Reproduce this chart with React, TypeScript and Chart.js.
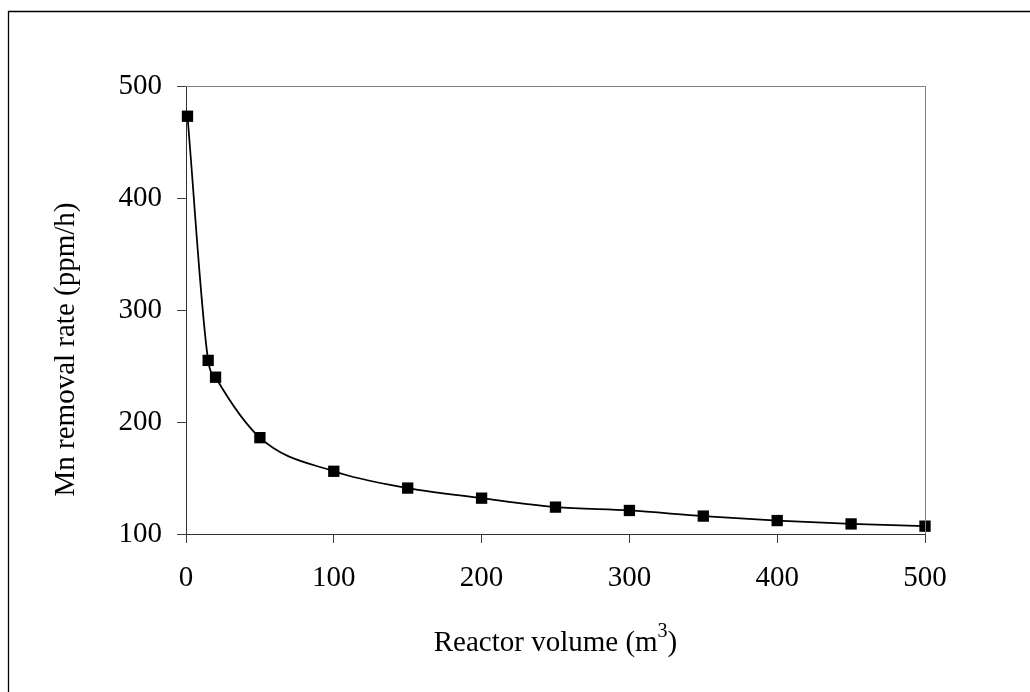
import { useEffect, useRef } from "react";
import { Chart, registerables } from "chart.js";

Chart.register(...registerables);

const volumes = [1, 15, 20, 50, 100, 150, 200, 250, 300, 350, 400, 450, 500];
const rates = [473, 255, 240, 186, 156, 141, 132, 124, 121, 116, 112, 109, 107];
const xTicks = [0, 100, 200, 300, 400, 500];
const yTicks = [100, 200, 300, 400, 500];
const xTitleMain = "Reactor volume (m";
const xTitleSup = "3";
const xTitleEnd = ")";
const yTitle = "Mn removal rate (ppm/h)";

const FONT = "'Liberation Serif', 'Times New Roman', serif";

const framePlugin = {
  id: "frameAndTitles",
  beforeDraw(chart: any) {
    const ctx = chart.ctx;
    ctx.save();
    ctx.fillStyle = "#ffffff";
    ctx.fillRect(0, 0, chart.width, chart.height);
    ctx.restore();
  },
  afterDraw(chart: any) {
    const ctx = chart.ctx;
    const a = chart.chartArea;
    ctx.save();
    // plot area top/right edges
    ctx.strokeStyle = "#808080";
    ctx.lineWidth = 1;
    ctx.beginPath();
    ctx.moveTo(a.left, a.top + 0.5);
    ctx.lineTo(a.right + 0.5, a.top + 0.5);
    ctx.lineTo(a.right + 0.5, a.bottom);
    ctx.stroke();
    // outer chart frame
    ctx.strokeStyle = "#000000";
    ctx.lineWidth = 1.3;
    ctx.beginPath();
    ctx.moveTo(chart.width, 11.5);
    ctx.lineTo(8.5, 11.5);
    ctx.lineTo(8.5, chart.height);
    ctx.stroke();

    ctx.fillStyle = "#000000";
    // y title
    ctx.save();
    ctx.font = `29px ${FONT}`;
    ctx.textAlign = "center";
    ctx.textBaseline = "alphabetic";
    ctx.translate(74, 349.5);
    ctx.rotate(-Math.PI / 2);
    ctx.fillText(yTitle, 0, 0);
    ctx.restore();

    // x title with superscript
    const cx = (a.left + a.right) / 2;
    const base = 651;
    ctx.textAlign = "left";
    ctx.textBaseline = "alphabetic";
    ctx.font = `29px ${FONT}`;
    const w1 = ctx.measureText(xTitleMain).width;
    const w3 = ctx.measureText(xTitleEnd).width;
    ctx.font = `20px ${FONT}`;
    const w2 = ctx.measureText(xTitleSup).width;
    let x = cx - (w1 + w2 + w3) / 2;
    ctx.font = `29px ${FONT}`;
    ctx.fillText(xTitleMain, x, base);
    x += w1;
    ctx.font = `20px ${FONT}`;
    ctx.fillText(xTitleSup, x, base - 14);
    x += w2;
    ctx.font = `29px ${FONT}`;
    ctx.fillText(xTitleEnd, x, base);
    ctx.restore();
  },
};

export default function App() {
  const ref = useRef<HTMLCanvasElement | null>(null);

  useEffect(() => {
    if (!ref.current) return;
    const chart = new Chart(ref.current, {
      type: "line",
      data: {
        datasets: [
          {
            data: volumes.map((v, i) => ({ x: v, y: rates[i] })),
            borderColor: "#000000",
            backgroundColor: "#000000",
            borderWidth: 1.75,
            pointStyle: "rect",
            pointRadius: 8,
            pointHoverRadius: 8,
            pointBorderWidth: 0,
            pointBackgroundColor: "#000000",
            tension: 0.4,
            cubicInterpolationMode: "monotone",
            fill: false,
            clip: false as any,
          },
        ],
      },
      options: {
        animation: false,
        responsive: false,
        events: [],
        layout: { padding: { left: 0, top: 86, right: 105, bottom: 0 } },
        plugins: {
          legend: { display: false },
          tooltip: { enabled: false },
          title: { display: false },
        },
        scales: {
          x: {
            type: "linear",
            min: 0,
            max: 500,
            afterBuildTicks: (s: any) => {
              s.ticks = xTicks.map((v) => ({ value: v }));
            },
            afterFit: (s: any) => {
              s.height = 158;
            },
            grid: {
              drawOnChartArea: false,
              drawTicks: true,
              tickLength: 9,
              tickColor: "#404040",
              color: "#404040",
            },
            border: { display: true, color: "#303030", width: 1 },
            ticks: {
              padding: 18,
              color: "#000000",
              font: { family: FONT, size: 29 },
              maxRotation: 0,
              autoSkip: false,
            },
          },
          y: {
            type: "linear",
            min: 100,
            max: 500,
            afterBuildTicks: (s: any) => {
              s.ticks = yTicks.map((v) => ({ value: v }));
            },
            afterFit: (s: any) => {
              s.width = 186;
            },
            grid: {
              drawOnChartArea: false,
              drawTicks: true,
              tickLength: 9,
              tickColor: "#404040",
              color: "#404040",
            },
            border: { display: true, color: "#303030", width: 1 },
            ticks: {
              padding: 15,
              color: "#000000",
              font: { family: FONT, size: 29 },
              autoSkip: false,
            },
          },
        },
      },
      plugins: [framePlugin],
    });
    return () => chart.destroy();
  }, []);

  return (
    <div style={{ position: "fixed", left: 0, top: 0, width: 1030, height: 692, background: "#fff" }}>
      <canvas ref={ref} width={1030} height={692} style={{ display: "block", width: 1030, height: 692 }} />
    </div>
  );
}
